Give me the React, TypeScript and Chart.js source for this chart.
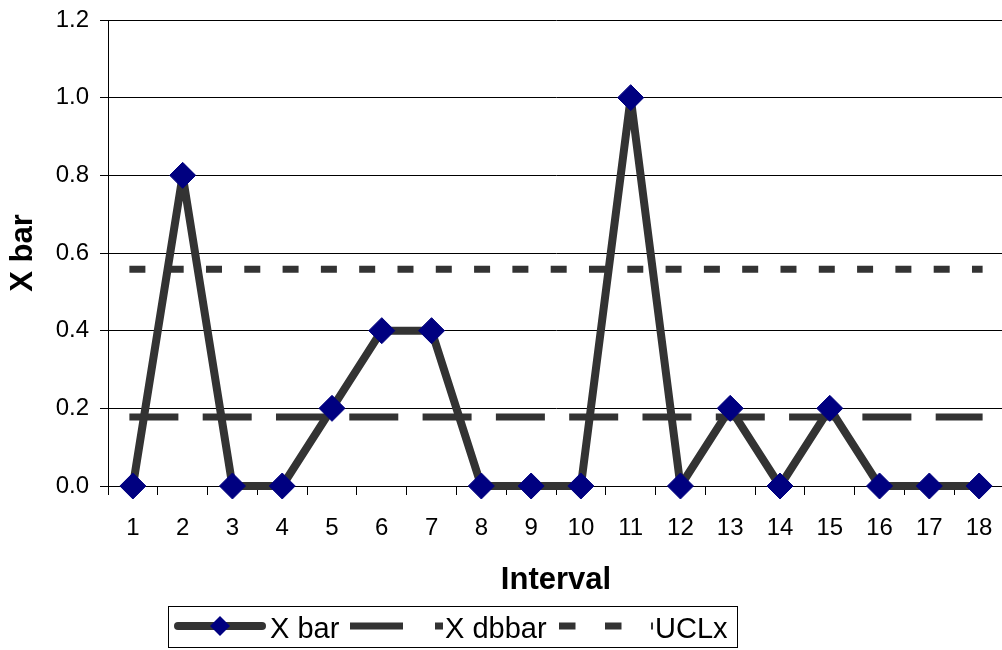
import React, { useEffect, useRef } from "react";
import { Chart, registerables } from "chart.js";

Chart.register(...registerables);

const categories = ["1", "2", "3", "4", "5", "6", "7", "8", "9", "10", "11", "12", "13", "14", "15", "16", "17", "18"];
const xBar = [0, 0.8, 0, 0, 0.2, 0.4, 0.4, 0, 0, 0, 1.0, 0, 0.2, 0, 0.2, 0, 0, 0];
const xDbbar = [0.178, 0.178, 0.178, 0.178, 0.178, 0.178, 0.178, 0.178, 0.178, 0.178, 0.178, 0.178, 0.178, 0.178, 0.178, 0.178, 0.178, 0.178];
const uclx = [0.558, 0.558, 0.558, 0.558, 0.558, 0.558, 0.558, 0.558, 0.558, 0.558, 0.558, 0.558, 0.558, 0.558, 0.558, 0.558, 0.558, 0.558];
const seriesLabels = ["X bar", "X dbbar", "UCLx"];
const yMin = 0;
const yMax = 1.2;
const yStep = 0.2;
const xTitle = "Interval";
const yTitle = "X bar";

const FONT = "'Liberation Sans', Arial, sans-serif";
const LINE = "#333333";
const NAVY = "#000080";

const legendPlugin = {
  id: "excelLegend",
  afterDraw(chart: any) {
    const ctx = chart.ctx as CanvasRenderingContext2D;
    const labels = chart.data.datasets.map((d: any) => d.label);
    ctx.save();
    ctx.strokeStyle = "#000";
    ctx.lineWidth = 1;
    ctx.strokeRect(168.5, 606.5, 569, 41);
    const y = 626;
    ctx.strokeStyle = LINE;
    // X bar sample
    ctx.lineWidth = 8;
    ctx.lineCap = "round";
    ctx.setLineDash([]);
    ctx.beginPath();
    ctx.moveTo(178, y);
    ctx.lineTo(262, y);
    ctx.stroke();
    ctx.fillStyle = NAVY;
    ctx.beginPath();
    ctx.moveTo(220, y - 10);
    ctx.lineTo(230, y);
    ctx.lineTo(220, y + 10);
    ctx.lineTo(210, y);
    ctx.closePath();
    ctx.fill();
    // X dbbar sample
    ctx.lineWidth = 7;
    ctx.lineCap = "butt";
    ctx.setLineDash([53, 32]);
    ctx.beginPath();
    ctx.moveTo(350, y);
    ctx.lineTo(443, y);
    ctx.stroke();
    // UCLx sample
    ctx.setLineDash([16.5, 29.5]);
    ctx.beginPath();
    ctx.moveTo(559, y);
    ctx.lineTo(653, y);
    ctx.stroke();
    ctx.setLineDash([]);
    ctx.fillStyle = "#000";
    ctx.font = `29px ${FONT}`;
    ctx.textBaseline = "alphabetic";
    ctx.textAlign = "left";
    ctx.fillText(labels[0], 270, 637.5);
    ctx.fillText(labels[1], 445, 637.5);
    ctx.fillText(labels[2], 655, 637.5);
    ctx.restore();
  },
};

export default function App() {
  const ref = useRef<HTMLCanvasElement | null>(null);
  useEffect(() => {
    if (!ref.current) return;
    const chart = new Chart(ref.current, {
      type: "line",
      data: {
        labels: categories,
        datasets: [
          {
            label: seriesLabels[0],
            data: xBar,
            borderColor: LINE,
            borderWidth: 8,
            borderCapStyle: "round",
            borderJoinStyle: "round",
            pointStyle: "rectRot",
            pointRadius: 13,
            pointBackgroundColor: NAVY,
            pointBorderColor: NAVY,
            pointBorderWidth: 1,
            tension: 0,
            fill: false,
            clip: false,
          },
          {
            label: seriesLabels[1],
            data: xDbbar,
            borderColor: LINE,
            borderWidth: 7,
            borderCapStyle: "square",
            borderDash: [42, 31.3],
            pointRadius: 0,
            tension: 0,
            fill: false,
            clip: false,
          },
          {
            label: seriesLabels[2],
            data: uclx,
            borderColor: LINE,
            borderWidth: 7,
            borderCapStyle: "square",
            borderDash: [9, 29.3],
            pointRadius: 0,
            tension: 0,
            fill: false,
            clip: false,
          },
        ],
      },
      options: {
        animation: false,
        responsive: true,
        maintainAspectRatio: false,
        layout: { autoPadding: false, padding: { top: 20, right: 0, bottom: 0, left: 0 } },
        plugins: {
          legend: { display: false },
          tooltip: { enabled: false },
        },
        scales: {
          x: {
            type: "category",
            offset: true,
            grid: {
              display: true,
              offset: true,
              drawOnChartArea: false,
              drawTicks: true,
              tickLength: 9,
              color: "#000",
              tickColor: "#000",
              lineWidth: 1,
            },
            border: { display: true, color: "#000", width: 1 },
            ticks: {
              color: "#000",
              font: { family: FONT, size: 24 },
              padding: 19,
              maxRotation: 0,
              autoSkip: false,
            },
            title: {
              display: true,
              text: xTitle,
              color: "#000",
              font: { family: FONT, size: 31, weight: "bold" },
              padding: { top: 0, bottom: 51 },
            },
            afterFit: (scale: any) => {
              scale.height = 164;
              scale.paddingLeft = 0;
              scale.paddingRight = 0;
            },
          },
          y: {
            min: yMin,
            max: yMax,
            grid: {
              color: "#000",
              tickColor: "#000",
              lineWidth: 1,
              drawTicks: true,
              tickLength: 8,
            },
            border: { display: true, color: "#000", width: 1 },
            ticks: {
              stepSize: yStep,
              color: "#000",
              font: { family: FONT, size: 24 },
              padding: 11,
              callback: (v: any) => Number(v).toFixed(1),
            },
            title: {
              display: true,
              text: yTitle,
              color: "#000",
              font: { family: FONT, size: 31, weight: "bold" },
              padding: { top: 5, bottom: 0 },
            },
            afterFit: (scale: any) => {
              scale.width = 108;
              scale.paddingTop = 0;
              scale.paddingBottom = 0;
            },
          },
        },
      },
      plugins: [legendPlugin],
    });
    return () => chart.destroy();
  }, []);

  return (
    <div style={{ position: "fixed", left: 0, top: 0, width: 1002, height: 650, overflow: "hidden", background: "#fff" }}>
      <div style={{ position: "relative", width: 1004, height: 650 }}>
        <canvas ref={ref} />
      </div>
    </div>
  );
}
